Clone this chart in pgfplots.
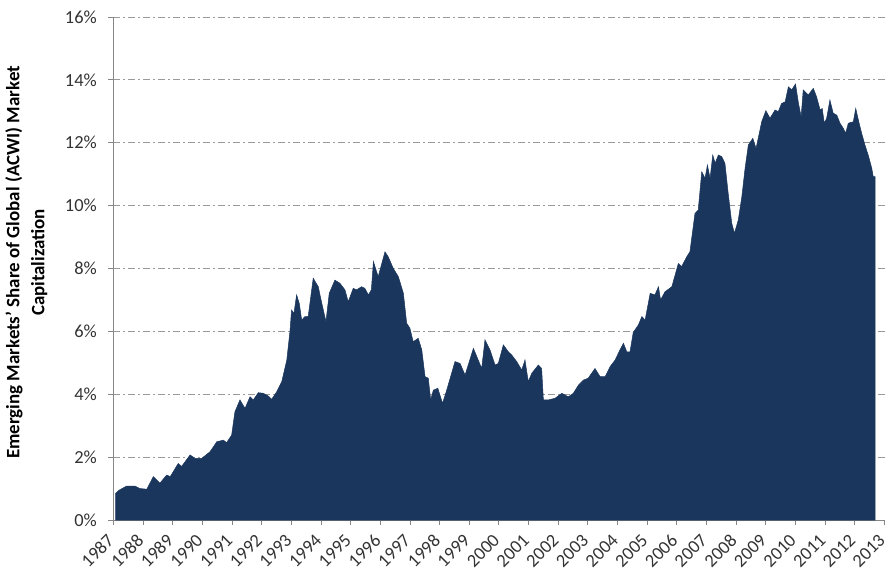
\documentclass[border=0pt]{standalone}
\usepackage{pgfplots}
\pgfplotsset{compat=1.18}
\usepackage{fontspec}
\setmainfont{Carlito}
\definecolor{navyfill}{HTML}{1A365D}
\definecolor{axisgray}{HTML}{868686}
\definecolor{gridgray}{HTML}{9A9A9A}
\begin{document}
\begin{tikzpicture}
\path[use as bounding box] (-113.3bp,-61bp) rectangle (773.7bp,520bp);
\begin{axis}[
  scale only axis,
  width=771.2bp, height=503bp,
  xmin=1987, xmax=2013,
  ymin=0, ymax=16,
  axis x line*=bottom, axis y line*=left,
  axis line style={axisgray, line width=0.9pt, -},
  xtick={1987,1988,...,2013},
  ytick={0,2,...,16},
  tick align=outside,
  major tick length=5bp,
  tick style={axisgray, line width=0.8pt},
  ymajorgrids,
  grid style={gridgray, line width=0.8pt, dash pattern=on 7bp off 3bp on 2bp off 3bp},
  yticklabel={\pgfmathprintnumber{\tick}\%},
  /pgf/number format/assume math mode=true,
  /pgf/number format/1000 sep={},
  tick label style={font=\fontsize{18.5}{20}\selectfont, text=black!80},
  xticklabel style={font=\fontsize{18.5}{20}\selectfont, rotate=45, anchor=east, inner sep=0.5bp, yshift=-7bp, xshift=-10bp},
  yticklabel style={font=\fontsize{18.5}{20}\selectfont, xshift=-8bp},
  ylabel={Emerging Markets' Share of Global (ACWI) Market\\Capitalization},
  ylabel style={at={(axis description cs:-0.1128,0.512)}, anchor=center,
    align=center, font=\fontsize{19}{25}\selectfont\bfseries, text=black},
]
\addplot[fill=navyfill, draw=navyfill, line width=0.5pt] coordinates {
(1987.08,0.85) (1987.2,0.95) (1987.45,1.08) (1987.73,1.08) (1987.9,1.00)
(1988.13,0.98) (1988.35,1.38) (1988.57,1.17) (1988.8,1.43) (1988.92,1.38)
(1989.19,1.80) (1989.3,1.70) (1989.59,2.07) (1989.75,1.96) (1989.98,1.96)
(1990.26,2.17) (1990.49,2.49) (1990.71,2.54) (1990.82,2.46) (1990.99,2.70)
(1991.1,3.44) (1991.27,3.82) (1991.44,3.55) (1991.61,3.92) (1991.72,3.82)
(1991.89,4.05) (1992.06,4.03) (1992.23,3.94) (1992.34,3.84) (1992.51,4.08)
(1992.68,4.40) (1992.85,5.09) (1992.96,6.04) (1993.01,6.68) (1993.09,6.57)
(1993.18,7.16) (1993.27,6.89) (1993.35,6.36) (1993.46,6.47) (1993.57,6.47)
(1993.74,7.69) (1993.91,7.42) (1994.03,6.89) (1994.17,6.31) (1994.28,7.21)
(1994.47,7.63) (1994.64,7.53) (1994.81,7.32) (1994.92,6.94) (1995.09,7.37)
(1995.2,7.32) (1995.37,7.42) (1995.48,7.37) (1995.6,7.16) (1995.7,7.32)
(1995.77,8.22) (1995.93,7.74) (1996.16,8.53) (1996.27,8.37) (1996.44,8.00)
(1996.61,7.74) (1996.78,7.21) (1996.89,6.26) (1997.0,6.10) (1997.11,5.67)
(1997.28,5.78) (1997.4,5.41) (1997.51,4.56) (1997.62,4.51) (1997.7,3.82)
(1997.79,4.13) (1997.94,4.19) (1998.1,3.71) (1998.24,4.13) (1998.52,5.04)
(1998.69,4.98) (1998.86,4.61) (1999.14,5.46) (1999.42,4.82) (1999.53,5.73)
(1999.7,5.41) (1999.87,4.93) (1999.98,4.98) (2000.15,5.57) (2000.32,5.35)
(2000.43,5.25) (2000.6,5.04) (2000.77,4.77) (2000.88,5.09) (2000.99,4.40)
(2001.11,4.67) (2001.33,4.93) (2001.44,4.82) (2001.5,3.82) (2001.67,3.82)
(2001.89,3.87) (2002.12,4.03) (2002.34,3.92) (2002.51,4.03) (2002.68,4.29)
(2002.85,4.45) (2003.01,4.51) (2003.24,4.82) (2003.41,4.56) (2003.58,4.56)
(2003.75,4.88) (2003.92,5.09) (2004.08,5.41) (2004.2,5.62) (2004.31,5.35)
(2004.42,5.35) (2004.53,5.97) (2004.7,6.20) (2004.82,6.47) (2004.93,6.36)
(2005.1,7.21) (2005.26,7.16) (2005.38,7.42) (2005.45,7.00) (2005.6,7.26)
(2005.83,7.42) (2006.05,8.16) (2006.16,8.06) (2006.33,8.37) (2006.44,8.53)
(2006.61,9.75) (2006.72,9.86) (2006.84,11.08) (2006.95,10.87) (2007.03,11.29)
(2007.12,10.87) (2007.21,11.61) (2007.29,11.35) (2007.4,11.61) (2007.51,11.56)
(2007.62,11.35) (2007.73,10.39) (2007.85,9.44) (2007.94,9.12) (2008.07,9.54)
(2008.19,10.28) (2008.3,11.19) (2008.41,11.93) (2008.56,12.14) (2008.67,11.82)
(2008.8,12.40) (2008.86,12.67) (2009.0,13.02) (2009.14,12.78) (2009.31,13.04)
(2009.42,12.99) (2009.53,13.25) (2009.65,13.30) (2009.76,13.78) (2009.87,13.68)
(2010.0,13.87) (2010.1,13.25) (2010.19,12.83) (2010.26,13.68) (2010.43,13.52)
(2010.6,13.73) (2010.71,13.46) (2010.83,13.04) (2010.9,13.09) (2010.97,12.62)
(2011.05,12.78) (2011.16,13.36) (2011.27,12.94) (2011.39,12.88) (2011.5,12.62)
(2011.61,12.46) (2011.69,12.30) (2011.78,12.62) (2011.95,12.67) (2012.03,13.09)
(2012.12,12.72) (2012.23,12.30) (2012.34,11.93) (2012.45,11.61) (2012.57,11.19)
(2012.62,10.92) (2012.68,10.92)
} \closedcycle;
\end{axis}
\end{tikzpicture}
\end{document}
